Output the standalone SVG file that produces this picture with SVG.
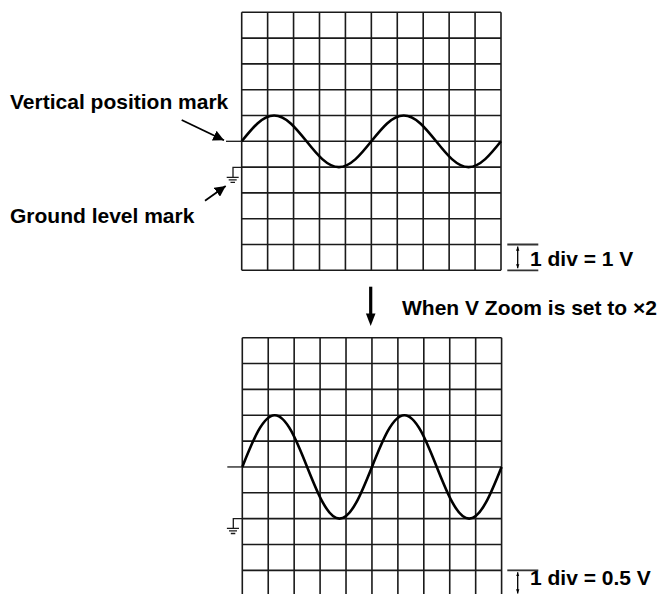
<svg xmlns="http://www.w3.org/2000/svg" width="663" height="594" viewBox="0 0 663 594">
<style>
.grid{fill:none;stroke:#1a1a1a;stroke-width:1.6}
.wave{fill:none;stroke:#000;stroke-width:2.6}
.thin{fill:none;stroke:#1a1a1a;stroke-width:1.3}
.scale{fill:none;stroke:#333;stroke-width:1.8}
.lbl{font-family:"Liberation Sans",Arial,Helvetica,sans-serif;font-weight:bold;font-size:21px;fill:#000}
.ptr{fill:none;stroke:#000;stroke-width:1.8}
</style>
<defs>
<marker id="ah" viewBox="0 0 10 10" refX="10" refY="5" markerWidth="6" markerHeight="6" orient="auto" markerUnits="strokeWidth">
<path d="M0,0 L10,5 L0,10 Z" fill="#000"/>
</marker>
<marker id="sh" viewBox="0 0 10 10" refX="10" refY="5" markerWidth="3.2" markerHeight="3.2" orient="auto-start-reverse" markerUnits="strokeWidth">
<path d="M0,1 L10,5 L0,9 Z" fill="#000"/>
</marker>
</defs>
<rect width="663" height="594" fill="#fff"/>

<g id="top-screen">
<path class="grid" d="M241.7,12.3V270.3M267.63,12.3V270.3M293.56,12.3V270.3M319.49,12.3V270.3M345.42,12.3V270.3M371.35,12.3V270.3M397.28,12.3V270.3M423.21,12.3V270.3M449.14,12.3V270.3M475.07,12.3V270.3M501,12.3V270.3
M241.7,12.3H501M241.7,38.1H501M241.7,63.9H501M241.7,89.7H501M241.7,115.5H501M241.7,141.3H501M241.7,167.1H501M241.7,192.9H501M241.7,218.7H501M241.7,244.5H501M241.7,270.3H501"/>
<path class="wave" d="M241.7,141.3 C252.27,128.08 262.38,115.5 274.11,115.5 C285.84,115.5 295.95,128.08 306.52,141.3 C317.09,154.52 327.2,167.1 338.93,167.1 C350.66,167.1 360.77,154.52 371.34,141.3 C381.91,128.08 392.02,115.5 403.75,115.5 C415.48,115.5 425.59,128.08 436.16,141.3 C446.73,154.52 456.84,167.1 468.57,167.1 C480.3,167.1 490.41,154.52 500.98,141.3"/>
<path class="thin" d="M226,141.3H241.7"/>
<path class="thin" d="M241.7,167.3H233V177.3M226.7,177.3H238.7M228.7,179.8H236.7M230.5,182.3H235"/>
</g>

<g id="bottom-screen">
<path class="grid" d="M242.3,337.7V594M268.23,337.7V594M294.16,337.7V594M320.09,337.7V594M346.02,337.7V594M371.95,337.7V594M397.88,337.7V594M423.81,337.7V594M449.74,337.7V594M475.67,337.7V594M501.6,337.7V594
M242.3,337.7H501.6M242.3,363.55H501.6M242.3,389.4H501.6M242.3,415.25H501.6M242.3,441.1H501.6M242.3,466.95H501.6M242.3,492.8H501.6M242.3,518.65H501.6M242.3,544.5H501.6M242.3,570.35H501.6"/>
<path class="wave" d="M242.3,466.95 C252.87,440.46 262.98,415.25 274.71,415.25 C286.44,415.25 296.55,440.46 307.12,466.95 C317.69,493.44 327.8,518.65 339.53,518.65 C351.26,518.65 361.37,493.44 371.94,466.95 C382.51,440.46 392.62,415.25 404.35,415.25 C416.08,415.25 426.19,440.46 436.76,466.95 C447.33,493.44 457.44,518.65 469.17,518.65 C480.9,518.65 491.01,493.44 501.58,466.95"/>
<path class="thin" d="M227.3,466.95H242.3"/>
<path class="thin" d="M242.3,518.65H233.3V528.3M226.9,528.3H239M229,530.9H237M230.8,533.5H235.3"/>
</g>

<g id="scale-top">
<path class="scale" d="M507.3,244.5H538.3M507.3,270.3H538.3"/>
<line x1="517.7" y1="246.5" x2="517.7" y2="268.3" stroke="#000" stroke-width="1.3" marker-start="url(#sh)" marker-end="url(#sh)"/>
<text class="lbl" x="530" y="265.5">1 div = 1 V</text>
</g>

<g id="scale-bottom">
<path class="scale" d="M507.3,570.35H538.3"/>
<line x1="517.7" y1="572.3" x2="517.7" y2="593.5" stroke="#000" stroke-width="1.3" marker-start="url(#sh)" marker-end="url(#sh)"/>
<text class="lbl" x="530" y="584.5">1 div = 0.5 V</text>
</g>

<g id="label-vpos">
<text class="lbl" x="10" y="109.3">Vertical position mark</text>
</g>
<g id="label-ground">
<text class="lbl" x="10" y="223.3">Ground level mark</text>
</g>
<g id="label-zoom">
<text class="lbl" x="402" y="315">When V Zoom is set to ×2</text>
</g>

<g id="connectors">
<line class="ptr" x1="181.7" y1="120" x2="224" y2="140.3" marker-end="url(#ah)"/>
<line class="ptr" x1="205" y1="200.7" x2="225.7" y2="186" marker-end="url(#ah)"/>
<path d="M370.7,286.7V315" stroke="#000" stroke-width="3.2" fill="none"/>
<path d="M365.9,313.5L375.5,313.5L370.7,326Z" fill="#000"/>
</g>
</svg>
